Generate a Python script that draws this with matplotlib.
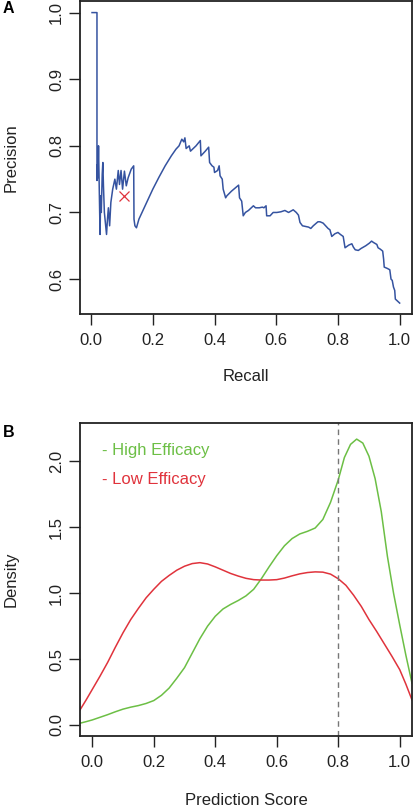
import numpy as np
import matplotlib.pyplot as plt

plt.rcParams['font.family'] = ['Liberation Sans', 'DejaVu Sans']
plt.rcParams['font.size'] = 12

# panel A: precision-recall curve (vertices)
recall = [0.003, 0.019, 0.019, 0.021, 0.022, 0.024, 0.026, 0.029, 0.031, 0.033,
          0.036, 0.038, 0.040, 0.043, 0.050, 0.053, 0.056, 0.060, 0.064, 0.070,
          0.077, 0.082, 0.088, 0.092, 0.097, 0.102, 0.108, 0.114, 0.120, 0.130,
          0.138, 0.139, 0.142, 0.147, 0.155, 0.165, 0.180, 0.200, 0.220, 0.240,
          0.260, 0.275, 0.285, 0.294, 0.300, 0.304, 0.308, 0.318, 0.322, 0.340,
          0.354, 0.356, 0.370, 0.381, 0.384, 0.392, 0.398, 0.400, 0.410, 0.415,
          0.418, 0.425, 0.428, 0.436, 0.440, 0.455, 0.470, 0.478, 0.481, 0.488,
          0.493, 0.500, 0.510, 0.526, 0.533, 0.545, 0.555, 0.560, 0.567, 0.569,
          0.580, 0.590, 0.602, 0.615, 0.628, 0.640, 0.655, 0.665, 0.672, 0.677,
          0.685, 0.695, 0.705, 0.712, 0.720, 0.735, 0.742, 0.752, 0.760, 0.768,
          0.774, 0.780, 0.790, 0.800, 0.808, 0.817, 0.823, 0.835, 0.845, 0.850,
          0.856, 0.866, 0.875, 0.890, 0.902, 0.909, 0.915, 0.926, 0.930, 0.937,
          0.945, 0.948, 0.950, 0.960, 0.968, 0.972, 0.976, 0.980, 0.984, 0.986,
          0.993, 1.000]
precision = [1.000, 1.000, 0.748, 0.772, 0.752, 0.800, 0.745, 0.667, 0.725, 0.700,
             0.757, 0.775, 0.740, 0.700, 0.667, 0.690, 0.707, 0.680, 0.715, 0.735,
             0.750, 0.735, 0.763, 0.742, 0.763, 0.735, 0.762, 0.740, 0.752, 0.765,
             0.770, 0.690, 0.680, 0.677, 0.690, 0.700, 0.715, 0.735, 0.753, 0.770,
             0.785, 0.795, 0.800, 0.810, 0.806, 0.812, 0.796, 0.800, 0.792, 0.800,
             0.808, 0.785, 0.792, 0.798, 0.775, 0.770, 0.768, 0.760, 0.763, 0.770,
             0.755, 0.750, 0.735, 0.722, 0.725, 0.732, 0.738, 0.741, 0.722, 0.717,
             0.695, 0.700, 0.703, 0.710, 0.707, 0.707, 0.708, 0.707, 0.710, 0.695,
             0.695, 0.700, 0.700, 0.701, 0.703, 0.700, 0.704, 0.700, 0.696, 0.685,
             0.680, 0.679, 0.678, 0.676, 0.680, 0.686, 0.686, 0.684, 0.680, 0.676,
             0.674, 0.664, 0.668, 0.670, 0.667, 0.664, 0.647, 0.651, 0.653, 0.648,
             0.644, 0.643, 0.646, 0.650, 0.654, 0.657, 0.655, 0.652, 0.647, 0.645,
             0.642, 0.630, 0.618, 0.616, 0.614, 0.600, 0.598, 0.588, 0.583, 0.570,
             0.567, 0.564]
cutoff_point = (0.105, 0.725)

# panel B: density of prediction scores
score_high = [-0.040, -0.020, 0.000, 0.025, 0.050, 0.075, 0.100, 0.125, 0.150, 0.175,
              0.200, 0.225, 0.250, 0.275, 0.300, 0.325, 0.350, 0.375, 0.400, 0.425,
              0.450, 0.475, 0.500, 0.525, 0.550, 0.575, 0.600, 0.625, 0.650, 0.675,
              0.700, 0.725, 0.750, 0.775, 0.800, 0.820, 0.840, 0.860, 0.880, 0.900,
              0.920, 0.940, 0.960, 0.980, 1.000, 1.020, 1.040]
dens_high = [0.013, 0.025, 0.038, 0.058, 0.078, 0.100, 0.120, 0.135, 0.147, 0.163,
             0.185, 0.225, 0.280, 0.355, 0.435, 0.545, 0.655, 0.750, 0.825, 0.880,
             0.915, 0.945, 0.980, 1.030, 1.110, 1.200, 1.285, 1.360, 1.415, 1.450,
             1.470, 1.495, 1.560, 1.690, 1.860, 2.030, 2.130, 2.170, 2.140, 2.040,
             1.870, 1.620, 1.280, 1.000, 0.760, 0.530, 0.317]
score_low = [-0.040, -0.020, 0.000, 0.025, 0.050, 0.075, 0.100, 0.125, 0.150, 0.175,
             0.200, 0.225, 0.250, 0.275, 0.300, 0.325, 0.350, 0.375, 0.400, 0.425,
             0.450, 0.475, 0.500, 0.525, 0.550, 0.575, 0.600, 0.625, 0.650, 0.675,
             0.700, 0.725, 0.750, 0.775, 0.800, 0.825, 0.850, 0.875, 0.900, 0.925,
             0.950, 0.975, 1.000, 1.020, 1.040]
dens_low = [0.114, 0.190, 0.270, 0.370, 0.475, 0.590, 0.700, 0.800, 0.885, 0.965,
            1.030, 1.090, 1.135, 1.175, 1.205, 1.225, 1.232, 1.222, 1.200, 1.175,
            1.150, 1.130, 1.113, 1.103, 1.100, 1.100, 1.103, 1.115, 1.132, 1.147,
            1.157, 1.162, 1.160, 1.145, 1.110, 1.060, 0.985, 0.900, 0.800, 0.710,
            0.615, 0.520, 0.420, 0.310, 0.190]
threshold = 0.8

blue = '#3553a0'
green = '#6cbf45'
red = '#e0333c'
dark = '#222222'

W, H = 413, 810
fig = plt.figure(figsize=(W / 100, H / 100), dpi=100)
axA = fig.add_axes([80 / W, 1 - 314 / H, 332 / W, 313 / H])
axB = fig.add_axes([80 / W, 1 - 736 / H, 332 / W, 312.7 / H])

axA.plot(recall, precision, color=blue, lw=1.1)
axA.plot(*cutoff_point, marker='x', color=red, ms=7, mew=0.9)
axA.set_xlim(-0.036, 1.04)
axA.set_ylim(0.5476, 1.0174)
axA.set_xticks([0, 0.2, 0.4, 0.6, 0.8, 1.0])
axA.set_yticks([0.6, 0.7, 0.8, 0.9, 1.0])
axA.set_xticklabels(['0.0', '0.2', '0.4', '0.6', '0.8', '1.0'])
axA.set_yticklabels(['0.6', '0.7', '0.8', '0.9', '1.0'])
axA.set_xlabel('Recall')
axA.set_ylabel('Precision')

axB.plot(score_high, dens_high, color=green, lw=1.1)
axB.plot(score_low, dens_low, color=red, lw=1.1)
axB.axvline(threshold, color='#777777', lw=1.0, dashes=(4, 3))
axB.set_xlim(-0.04, 1.04)
axB.set_ylim(-0.084, 2.29)
axB.set_xticks([0, 0.2, 0.4, 0.6, 0.8, 1.0])
axB.set_yticks([0, 0.5, 1.0, 1.5, 2.0])
axB.set_xticklabels(['0.0', '0.2', '0.4', '0.6', '0.8', '1.0'])
axB.set_yticklabels(['0.0', '0.5', '1.0', '1.5', '2.0'])
axB.set_xlabel('Prediction Score')
axB.set_ylabel('Density')
axB.text(0.067, 0.898, '- High Efficacy', color=green, transform=axB.transAxes)
axB.text(0.067, 0.805, '- Low Efficacy', color=red, transform=axB.transAxes)

for ax in (axA, axB):
    for s in ax.spines.values():
        s.set_color(dark)
        s.set_linewidth(1.3)
    ax.tick_params(length=8, width=1.0, color=dark, labelcolor=dark)
    ax.tick_params(axis='x', pad=6)
    ax.tick_params(axis='y', pad=3.5, labelrotation=90)
    for lab in ax.get_yticklabels():
        lab.set_va('center')
    ax.xaxis.label.set_color(dark)
    ax.yaxis.label.set_color(dark)
    ax.yaxis.set_label_coords(-0.185, 0.5)

axA.xaxis.set_label_coords(0.5, -0.177)
axB.xaxis.set_label_coords(0.5, -0.1836)

fig.text(2.5 / W, 1 - 13.3 / H, 'A', fontsize=11.5, fontweight='bold', color='black')
fig.text(2.5 / W, 1 - 436.7 / H, 'B', fontsize=11.5, fontweight='bold', color='black')

fig.savefig('out.png', dpi=100)
